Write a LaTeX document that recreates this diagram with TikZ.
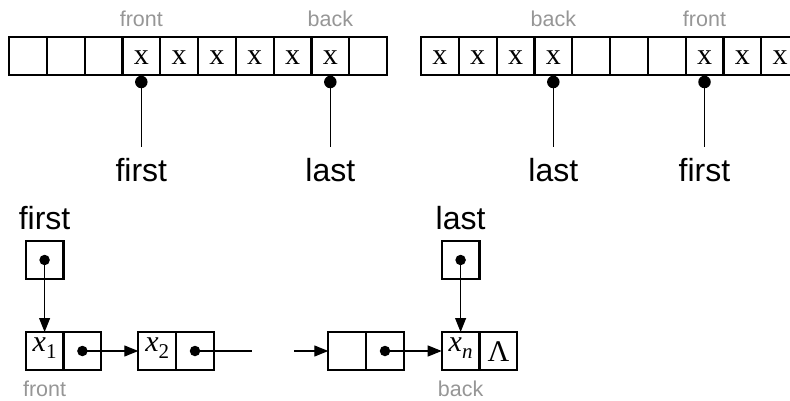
\documentclass[tikz,border=0pt]{standalone}
\usepackage{fontspec}
\setmainfont{Liberation Sans}
\newfontfamily\seriffam{Liberation Serif}
\usetikzlibrary{arrows.meta}
\definecolor{labgray}{RGB}{150,150,150}
\newcommand{\mysub}[1]{\raisebox{-7pt}{\fontsize{21}{21}\selectfont #1}}
\tikzset{
 cell/.style={draw, line width=2.2pt, minimum width=37.8pt, minimum height=38pt, inner sep=0pt, outer sep=0pt},
 xlab/.style={anchor=base, inner sep=0pt, font=\seriffam\fontsize{30}{30}\selectfont},
 glab/.style={anchor=base, inner sep=0pt, text=labgray, font=\fontsize{21.5}{24}\selectfont},
 wordlab/.style={anchor=base, inner sep=0pt, font=\fontsize{32}{36}\selectfont},
 bigdot/.style={circle, fill, inner sep=0pt, minimum size=12.5pt},
 smalldot/.style={circle, fill, inner sep=0pt, minimum size=10.5pt},
 ptr/.style={line width=1.1pt},
 arr/.style={line width=1.1pt, -{Triangle[length=14pt,width=11pt]}},
}
\begin{document}
\begin{tikzpicture}[x=1pt,y=-1pt]
\useasboundingbox (0,0) rectangle (790,401);
\clip (0,0) rectangle (790,401);

% ---------- top left array ----------
\foreach \i in {1,...,10} \node[cell] (L\i) at ({9+37.8*(\i-0.5)},56) {};
\foreach \i in {4,...,9} \node[xlab] (Lx\i) at ([yshift=-8.3pt]L\i.center) {x};
\node[glab] (Lfront) at ([yshift=29pt]L4.center) {front};
\node[glab] (Lback) at ([yshift=29pt]L9.center) {back};
\node[bigdot] (Ldotf) at ([yshift=-26pt]L4.center) {};
\node[bigdot] (Ldotl) at ([yshift=-26pt]L9.center) {};
\node[wordlab] (Lfirst) at ([yshift=-126pt]L4.center) {first};
\node[wordlab] (Llast) at ([yshift=-126pt]L9.center) {last};
\draw[ptr, shorten >=11.6pt] (Ldotf.center) -- (Lfirst.north);
\draw[ptr, shorten >=11.6pt] (Ldotl.center) -- (Llast.north);

% ---------- top right array ----------
\foreach \i in {1,...,10} \node[cell] (R\i) at ({421+37.8*(\i-0.5)},56) {};
\foreach \i in {1,2,3,4,8,9,10} \node[xlab] (Rx\i) at ([yshift=-8.3pt]R\i.center) {x};
\node[glab] (Rback) at ([yshift=29pt]R4.center) {back};
\node[glab] (Rfront) at ([yshift=29pt]R8.center) {front};
\node[bigdot] (Rdotl) at ([yshift=-26pt]R4.center) {};
\node[bigdot] (Rdotf) at ([yshift=-26pt]R8.center) {};
\node[wordlab] (Rlast) at ([yshift=-126pt]R4.center) {last};
\node[wordlab] (Rfirst) at ([yshift=-126pt]R8.center) {first};
\draw[ptr, shorten >=11.6pt] (Rdotl.center) -- (Rlast.north);
\draw[ptr, shorten >=11.6pt] (Rdotf.center) -- (Rfirst.north);

% ---------- linked list ----------
\node[cell] (FP) at (44.6,260) {};
\node[smalldot] (FPd) at (FP.center) {};
\node[wordlab] (Bfirst) at (44.6,229) {first};
\node[cell] (LP) at (460.6,260) {};
\node[smalldot] (LPd) at (LP.center) {};
\node[wordlab] (Blast) at (460.6,229) {last};

\node[cell] (A1) at (44.6,351) {};
\node[cell] (A1b) at (82.4,351) {};
\node[cell] (A2) at (157.2,351) {};
\node[cell] (A2b) at (195,351) {};
\node[cell] (B1) at (347.2,351) {};
\node[cell] (B1b) at (385,351) {};
\node[cell] (N1) at (460.6,351) {};
\node[cell] (N1b) at (498.4,351) {};

\node[xlab] (A1t) at (44.6,351) {\itshape x\mysub{\upshape 1}};
\node[xlab] (A2t) at (157.2,351) {\itshape x\mysub{\upshape 2}};
\node[xlab] (N1t) at (460.6,351) {\itshape x\mysub{n}};
\node[xlab] (N1bt) at (498.4,361.7) {Λ};

\node[smalldot] (A1d) at (A1b.center) {};
\node[smalldot] (A2d) at (A2b.center) {};
\node[smalldot] (B1d) at (B1b.center) {};
\coordinate (gapL) at (251.7,351);
\coordinate (gapR) at (294.3,351);

\draw[arr] (FPd.center) -- (A1.north);
\draw[arr] (LPd.center) -- (N1.north);
\draw[arr] (A1d.center) -- (A2.west);
\draw[ptr] (A2d.center) -- (gapL);
\draw[arr] (gapR) -- (B1.west);
\draw[arr] (B1d.center) -- (N1.west);

\node[glab] (Bfront) at (44.6,396) {front};
\node[glab] (Bback) at (460.6,396) {back};
\end{tikzpicture}
\end{document}
